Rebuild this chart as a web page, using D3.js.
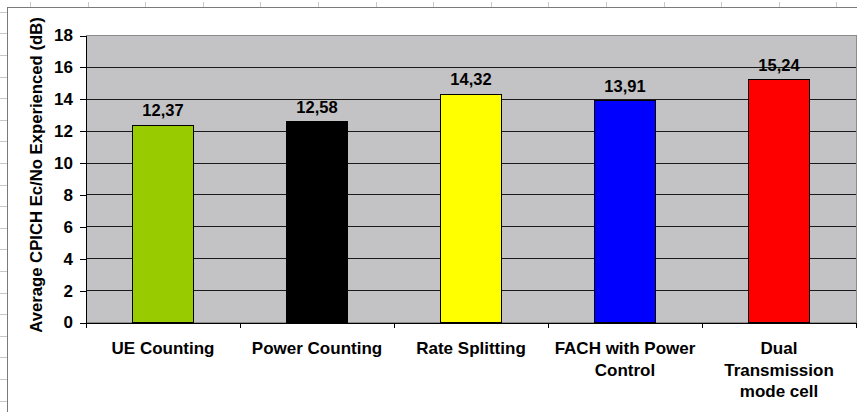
<!DOCTYPE html>
<html>
<head>
<meta charset="utf-8">
<script src="https://cdn.jsdelivr.net/npm/d3@7"></script>
<style>
  html, body { margin: 0; padding: 0; background: #fff; }
  svg { display: block; }
  text { font-family: "Liberation Sans", Arial, sans-serif; font-weight: bold; fill: #000; }
</style>
</head>
<body>
<svg id="chart" width="857" height="412"></svg>
<script>
// ---- data ----
const categories = ["UE Counting", "Power Counting", "Rate Splitting", "FACH with Power\nControl", "Dual\nTransmission\nmode cell"];
const values = [12.37, 12.58, 14.32, 13.91, 15.24];
const valueLabels = ["12,37", "12,58", "14,32", "13,91", "15,24"];
const barColors = ["#99CC00", "#000000", "#FFFF00", "#0000FF", "#FF0000"];
const yTicks = [0, 2, 4, 6, 8, 10, 12, 14, 16, 18];
const yTitle = "Average CPICH Ec/No Experienced (dB)";

const svg = d3.select("#chart");
const W = 857, H = 412;
const plot = { left: 86, right: 856, top: 35.5, bottom: 322.5 };

// ---- spreadsheet background (cell gridline stubs + chart area border) ----
const bg = svg.append("g").attr("shape-rendering", "crispEdges");
d3.range(30, W, 57.6).forEach(x => {
  bg.append("line").attr("x1", Math.round(x) + 0.5).attr("x2", Math.round(x) + 0.5)
    .attr("y1", 2).attr("y2", 7).attr("stroke", "#c8c8c8");
});
d3.range(11.7, H, 21.6).forEach(y => {
  bg.append("line").attr("y1", Math.round(y) + 0.5).attr("y2", Math.round(y) + 0.5)
    .attr("x1", 0).attr("x2", 7).attr("stroke", "#c8c8c8");
});
bg.append("path").attr("d", `M7.5,${H} V7.5 H${W}`).attr("fill", "none").attr("stroke", "#7a7a7a");

// ---- scales ----
const y = d3.scaleLinear().domain([0, 18]).range([plot.bottom, plot.top]);
const x = d3.scaleBand().domain(categories).range([plot.left, plot.right])
  .paddingInner(0.6).paddingOuter(0.3);
const xb = d3.scaleLinear().domain([0, categories.length]).range([plot.left, plot.right]);

// ---- plot area ----
svg.append("rect")
  .attr("x", plot.left).attr("y", plot.top)
  .attr("width", plot.right - plot.left).attr("height", plot.bottom - plot.top)
  .attr("fill", "#C3C2C5").attr("stroke", "#8c8c8c").attr("shape-rendering", "crispEdges");

// gridlines
svg.append("g").attr("shape-rendering", "crispEdges")
  .selectAll("line").data(yTicks.filter(t => t > 0 && t < 18)).join("line")
  .attr("x1", plot.left).attr("x2", plot.right)
  .attr("y1", d => y(d)).attr("y2", d => y(d))
  .attr("stroke", "#1a1a1a");

// bars
svg.append("g").attr("shape-rendering", "crispEdges")
  .selectAll("rect").data(values).join("rect")
  .attr("x", (d, i) => x(categories[i]))
  .attr("width", x.bandwidth())
  .attr("y", d => y(d))
  .attr("height", d => y(0) - y(d))
  .attr("fill", (d, i) => barColors[i])
  .attr("stroke", "#000").attr("stroke-width", 1);

// value labels
svg.append("g").selectAll("text").data(values).join("text")
  .attr("x", (d, i) => x(categories[i]) + x.bandwidth() / 2)
  .attr("y", d => y(d) - 9)
  .attr("text-anchor", "middle")
  .style("font-size", "16.5px")
  .text((d, i) => valueLabels[i]);

// y axis
const ya = svg.append("g").attr("transform", `translate(${plot.left},0)`)
  .attr("shape-rendering", "crispEdges")
  .call(d3.axisLeft(y).tickValues(yTicks).tickSize(6).tickSizeOuter(0).tickPadding(7).tickFormat(d3.format("d")));
ya.select(".domain").attr("stroke", "#000");
ya.selectAll(".tick line").attr("stroke", "#000");
ya.selectAll(".tick text").style("font-size", "17px")
  .style("font-family", '"Liberation Sans", Arial, sans-serif').style("font-weight", "bold").attr("fill", "#000");

// x axis (tick marks at category boundaries)
const xa = svg.append("g").attr("transform", `translate(0,${plot.bottom})`)
  .attr("shape-rendering", "crispEdges")
  .call(d3.axisBottom(xb).tickValues(d3.range(0, categories.length + 1)).tickSize(5).tickSizeOuter(0).tickFormat(""));
xa.select(".domain").attr("stroke", "#000");
xa.selectAll(".tick line").attr("stroke", "#000");

// category labels
const cl = svg.append("g").selectAll("text").data(categories).join("text")
  .attr("text-anchor", "middle")
  .style("font-size", "17px")
  .attr("transform", d => `translate(${x(d) + x.bandwidth() / 2},354)`);
cl.selectAll("tspan").data(d => d.split("\n")).join("tspan")
  .attr("x", 0).attr("y", (d, i) => i * 21.7)
  .text(d => d);

// y title
svg.append("text")
  .attr("transform", `translate(41.5,175) rotate(-90)`)
  .attr("text-anchor", "middle")
  .style("font-size", "16.7px")
  .text(yTitle);
</script>
</body>
</html>
